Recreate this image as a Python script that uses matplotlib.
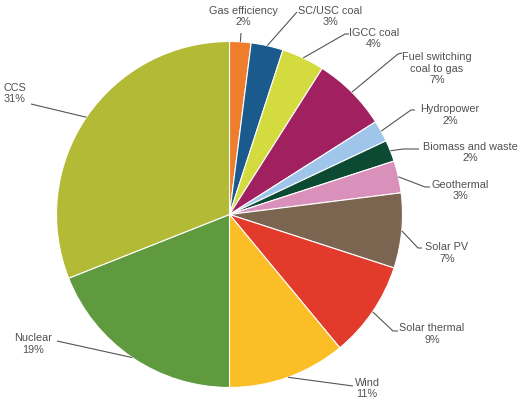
import numpy as np
import matplotlib
matplotlib.use("Agg")
import matplotlib.pyplot as plt

labels = ["Gas efficiency", "SC/USC coal", "IGCC coal", "Fuel switching\ncoal to gas",
          "Hydropower", "Biomass and waste", "Geothermal", "Solar PV",
          "Solar thermal", "Wind", "Nuclear", "CCS"]
shares = [2, 3, 4, 7, 2, 2, 3, 7, 9, 11, 19, 31]
colors = ["#ee7d2e", "#1b5a8c", "#d3db3e", "#a12060", "#9fc6ea", "#0c4a34",
          "#d990ba", "#7c6550", "#e23b2b", "#fbbe27", "#5f9a3f", "#b2ba36"]

W, H = 521, 398
fig = plt.figure(figsize=(W / 100, H / 100), dpi=100)
ax = fig.add_axes([0, 0, 1, 1])

def Y(y):
    return H - y

cx, cy, r = 229.5, 214.5, 173.0
ax.pie(shares, colors=colors, startangle=90, counterclock=False,
       center=(cx, Y(cy)), radius=r,
       wedgeprops=dict(edgecolor="white", linewidth=0.8))
ax.set_xlim(0, W)
ax.set_ylim(0, H)
ax.set_aspect("equal")
ax.axis("off")

# label layout: text block center, leader path points (from text side toward wedge)
layout = [
    ((243, 16.5), [(241, 33)]),
    ((330, 16.5), [(297, 12)]),
    ((374, 38.5), [(349, 34), (345, 34)]),
    ((437, 68.5), [(402, 53), (398, 54)]),
    ((450, 115), [(415, 110), (411, 110)]),
    ((470, 152.5), [(419, 149), (403, 149)]),
    ((460, 190.5), [(430, 187), (425, 187)]),
    ((447, 253), [(422, 248), (418, 248)]),
    ((432, 334), [(398, 331), (393, 331)]),
    ((367, 388.5), [(353, 386)]),
    ((33, 344), [(57, 341)]),
    ((15, 93.5), [(31, 104)]),
]

total = float(sum(shares))
cum = 0.0
for lab, val, (tpos, path) in zip(labels, shares, layout):
    mid = (cum + val / 2) / total * 360.0
    cum += val
    ex = cx + r * np.sin(np.radians(mid))
    ey = cy - r * np.cos(np.radians(mid))
    pts = path + [(ex, ey)]
    ax.plot([p[0] for p in pts], [Y(p[1]) for p in pts], color="#555555", lw=0.8,
            solid_capstyle="butt")
    ax.text(tpos[0], Y(tpos[1]), f"{lab}\n{val}%", ha="center", va="center",
            fontsize=7.8, color="#505050", family="Liberation Sans",
            linespacing=1.2)

fig.savefig("out.png", dpi=100)
